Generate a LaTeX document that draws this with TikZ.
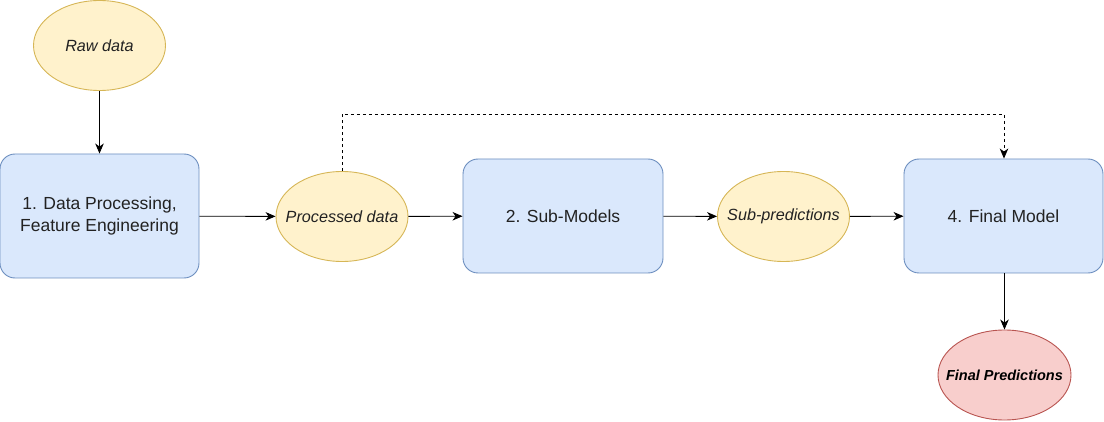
\documentclass[tikz,border=0pt]{standalone}
\usepackage{fontspec}
\setmainfont{Liberation Sans}
\usetikzlibrary{shapes.geometric,arrows.meta}
\definecolor{yfill}{HTML}{FFF2CC}
\definecolor{ydraw}{HTML}{D6B656}
\definecolor{bfill}{HTML}{DAE8FC}
\definecolor{bdraw}{HTML}{6C8EBF}
\definecolor{rfill}{HTML}{F8CECC}
\definecolor{rdraw}{HTML}{B85450}
\definecolor{txt}{HTML}{222222}
\tikzset{
  databubble/.style={ellipse, draw=ydraw, fill=yfill, line width=0.9pt, minimum width=132pt, minimum height=90pt, inner xsep=-25pt, inner ysep=0pt, text=txt, font=\fontsize{16.2}{19}\selectfont\itshape},
  procbox/.style={rectangle, rounded corners=15pt, draw=bdraw, fill=bfill, line width=0.9pt, minimum width=199pt, minimum height=114pt, inner sep=0pt, text=txt, align=center, font=\fontsize{17.5}{22.7}\selectfont},
  resultbubble/.style={ellipse, draw=rdraw, fill=rfill, line width=0.9pt, minimum width=133pt, minimum height=90pt, inner xsep=-25pt, inner ysep=0pt, text=black, font=\fontsize{14.5}{17}\selectfont\bfseries\itshape},
  link/.style={line width=0.9pt, -{Stealth[length=10pt,width=8.5pt,inset=3pt]}},
  dashlink/.style={link, dash pattern=on 3pt off 3pt}
}
\begin{document}
\begin{tikzpicture}[x=1pt,y=-1pt]
\useasboundingbox (0,0) rectangle (1104,422);
\node[databubble] (raw) at (99.5,45.5) {Raw data};
\node[procbox, minimum height=124pt] (dp) at (99.5,216) {1. Data Processing,\\Feature Engineering};
\node[databubble] (pd) at (342,216.5) {Processed data};
\node[procbox, minimum width=200pt] (sm) at (563,216) {2. Sub-Models};
\node[databubble] (sp) at (783.5,216.5) {Sub-predictions};
\node[procbox] (fm) at (1003.5,216) {4. Final Model};
\node[resultbubble] (fp) at (1004.5,375) {Final Predictions};
\coordinate (c1) at (342,114);
\coordinate (c2) at (1004,114);
\draw[link] (raw) -- (dp);
\draw[link] (dp) -- (pd);
\draw[link] (pd) -- (sm);
\draw[link] (sm) -- (sp);
\draw[link] (sp) -- (fm);
\draw[link] (fm.south -| fp.north) -- (fp);
\draw[dashlink] (pd.north) -- (c1) -- (c2) -- (c2 |- fm.north);
\end{tikzpicture}
\end{document}
